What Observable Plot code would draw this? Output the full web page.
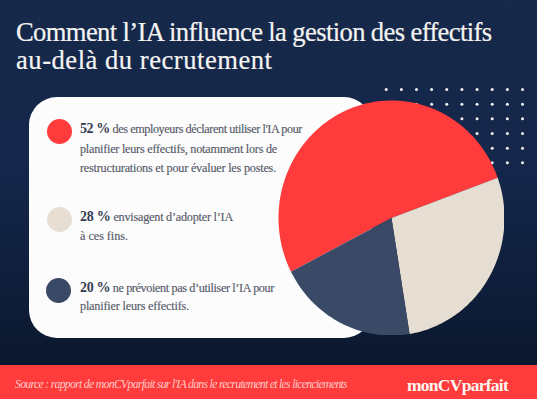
<!DOCTYPE html>
<html lang="fr"><head><meta charset="utf-8">
<script src="https://cdn.jsdelivr.net/npm/d3@7"></script>
<script src="https://cdn.jsdelivr.net/npm/@observablehq/plot@0.6"></script>
<style>
html,body{margin:0;padding:0;background:#fff}
#page{position:relative;width:537px;height:399px;overflow:hidden;background:linear-gradient(180deg,#17294a 0%,#14264a 45%,#0b182f 90%);font-family:"Liberation Serif",serif}
#page>*{position:absolute}
#title div{position:absolute;left:16px;color:#f4f4f2;font-size:26.6px;white-space:nowrap;line-height:30px;-webkit-text-stroke:.2px #f4f4f2}
#card{left:29px;top:97px;width:343px;height:241px;border-radius:28px;background:#fcfcfc}
.l{position:absolute;left:80px;font-size:12.2px;line-height:20px;color:#555a68;white-space:nowrap;-webkit-text-stroke:.15px #555a68}
.l b{font-size:14px;font-weight:700;color:#353b50;-webkit-text-stroke:0}
.sw{position:absolute;width:25px;height:25px;border-radius:50%}
#foot{left:0;top:365px;width:537px;height:34px;background:#ff3b3b}
#src{position:absolute;left:15px;top:11px;font-size:11.8px;line-height:16px;font-style:italic;color:#ffc9c6;white-space:nowrap}
#logo{position:absolute;left:407px;top:10px;font-size:17.5px;line-height:20px;font-weight:700;color:#fdf6f2;white-space:nowrap}
svg{background:transparent}
</style></head><body>
<div id="page">
  <div id="title" style="left:0;top:0;width:537px;height:90px">
    <div style="top:17px" data-w="475.5">Comment l’IA influence la gestion des effectifs</div>
    <div style="top:45px" data-w="256.5">au-delà du recrutement</div>
  </div>
  <div id="dots" style="left:0;top:0"></div>
  <div id="card"></div>
  <div id="lines" style="left:0;top:0;width:537px;height:365px"></div>
  <div id="pie" style="left:278px;top:100px"></div>
  <div id="foot">
    <div id="src" data-w="332">Source : rapport de monCVparfait sur l'IA dans le recrutement et les licenciements</div>
    <div id="logo" data-w="101">monCVparfait</div>
  </div>
</div>
<script>
const categories = ["Utilisent l’IA", "Envisagent d’adopter l’IA", "Ne prévoient pas d’utiliser l’IA"];
const shares = [52, 28, 20];
const colors = ["#ff3b3b", "#e7ded3", "#3a4966"];
const lead = ["52 %", "28 %", "20 %"];
const textLines = [
  ["des employeurs déclarent utiliser l'IA pour", "planifier leurs effectifs, notamment lors de", "restructurations et pour évaluer les postes."],
  ["envisagent d’adopter l’IA", "à ces fins."],
  ["ne prévoient pas d’utiliser l’IA pour", "planifier leurs effectifs."]
];
const lineTops = [[119, 138.5, 158], [207, 226], [278, 296]];
const lineWidths = [[222, 197, 196], [153, 48], [194, 109]];
const swatchCentres = [[59, 131], [59, 219], [58.7, 290]];

// legend text and swatches
const lines = document.getElementById("lines");
textLines.forEach((group, i) => {
  const s = document.createElement("div");
  s.className = "sw";
  s.style.cssText = `left:${swatchCentres[i][0]-12.5}px;top:${swatchCentres[i][1]-12.5}px;background:${colors[i]}`;
  lines.append(s);
  group.forEach((txt, j) => {
    const d = document.createElement("div");
    d.className = "l";
    d.style.top = lineTops[i][j] + "px";
    d.dataset.w = lineWidths[i][j];
    d.innerHTML = (j === 0 ? `<b>${lead[i]}</b> ` : "") + txt;
    lines.append(d);
  });
});

// fit each text line to the width it has in the picture
document.querySelectorAll("[data-w]").forEach(el => {
  const w = el.getBoundingClientRect().width;
  el.style.letterSpacing = ((+el.dataset.w - w) / el.textContent.length) + "px";
});

// decorative dot grid
const gridCols = d3.range(10), gridRows = d3.range(6);
const grid = gridRows.flatMap(r => gridCols.map(c => ({c, r})));
document.getElementById("dots").append(Plot.plot({
  width: 537, height: 400, margin: 0,
  x: {domain: [0, 9], range: [385.7, 522], axis: null},
  y: {domain: [0, 5], range: [89, 162.3], axis: null},
  marks: [Plot.dot(grid, {x: "c", y: "r", r: 1.5, fill: "#f2f2f2"})]
}));

// pie: slices are computed from the shares, then drawn with Plot's own scales
const arcs = d3.pie().sort(null).startAngle((242.8) * Math.PI / 180).endAngle((242.8 + 360) * Math.PI / 180)(shares);
const piePoints = arcs.flatMap((a, i) => {
  const n = Math.ceil((a.endAngle - a.startAngle) * 180 / Math.PI);
  const pts = [{category: categories[i], px: 0, py: 0}];
  for (let k = 0; k <= n; k++) {
    const t = a.startAngle + (a.endAngle - a.startAngle) * k / n;
    pts.push({category: categories[i], px: Math.sin(t), py: Math.cos(t)});
  }
  return pts;
});
document.getElementById("pie").append(Plot.plot({
  width: 226, height: 235, margin: 0,
  x: {domain: [-1, 1], axis: null},
  y: {domain: [-1, 1], axis: null},
  color: {domain: categories, range: colors},
  marks: [Plot.line(piePoints, {x: "px", y: "py", z: "category", fill: "category", stroke: "none"})]
}));
</script>
</body></html>
